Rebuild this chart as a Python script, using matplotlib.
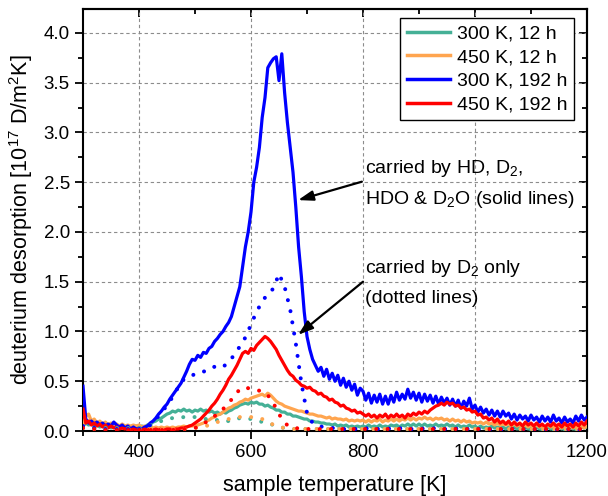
import numpy as np
import matplotlib
matplotlib.use("Agg")
import matplotlib.pyplot as plt
from matplotlib.ticker import MultipleLocator

plt.rcParams['font.family'] = ['Liberation Sans', 'DejaVu Sans']
plt.rcParams['mathtext.fontset'] = 'custom'
plt.rcParams['mathtext.rm'] = 'Liberation Sans'
plt.rcParams['mathtext.it'] = 'Liberation Sans:italic'
plt.rcParams['mathtext.default'] = 'regular'

# temperature grid of the solid curves (5 K step) and dotted curves (10 K step)
T_solid = np.arange(300, 1205, 5)
T_dot = np.arange(300, 1210, 10)

labels = ["300 K, 12 h", "450 K, 12 h", "300 K, 192 h", "450 K, 192 h"]
colors = ["#45b096", "#ffa54f", "#0000ff", "#ff0000"]

teal_solid = [
    0.05, 0.08, 0.06, 0.07, 0.05, 0.06, 0.04, 0.05, 0.04, 0.05,
    0.03, 0.04, 0.03, 0.04, 0.03, 0.04, 0.03, 0.04, 0.03, 0.05,
    0.04, 0.05, 0.04, 0.06, 0.07, 0.09, 0.10, 0.12, 0.13, 0.15,
    0.17, 0.18, 0.20, 0.19, 0.21, 0.20, 0.22, 0.20, 0.21, 0.19,
    0.21, 0.20, 0.22, 0.20, 0.21, 0.19, 0.20, 0.18, 0.19, 0.17,
    0.19, 0.18, 0.20, 0.21, 0.23, 0.24, 0.26, 0.27, 0.28, 0.27,
    0.29, 0.28, 0.29, 0.27, 0.27, 0.25, 0.26, 0.24, 0.23, 0.21,
    0.21, 0.19, 0.19, 0.17, 0.17, 0.15, 0.15, 0.14, 0.13, 0.12,
    0.12, 0.10, 0.10, 0.09, 0.09, 0.08, 0.08, 0.07, 0.07, 0.06,
    0.07, 0.05, 0.06, 0.05, 0.06, 0.04, 0.05, 0.04, 0.05, 0.04,
    0.05, 0.04, 0.06, 0.04, 0.05, 0.04, 0.06, 0.04, 0.05, 0.04,
    0.06, 0.05, 0.06, 0.04, 0.06, 0.05, 0.07, 0.05, 0.07, 0.05,
    0.07, 0.05, 0.07, 0.05, 0.06, 0.05, 0.07, 0.05, 0.06, 0.05,
    0.07, 0.05, 0.06, 0.04, 0.06, 0.04, 0.05, 0.04, 0.06, 0.04,
    0.05, 0.03, 0.05, 0.03, 0.04, 0.03, 0.05, 0.03, 0.04, 0.03,
    0.04, 0.02, 0.04, 0.03, 0.04, 0.02, 0.04, 0.03, 0.04, 0.02,
    0.04, 0.03, 0.04, 0.02, 0.03, 0.02, 0.04, 0.02, 0.03, 0.02,
    0.04, 0.02, 0.03, 0.02, 0.04, 0.02, 0.03, 0.02, 0.04, 0.03,
    0.04]

orange_solid = [
    0.06, 0.15, 0.17, 0.10, 0.12, 0.08, 0.10, 0.07, 0.09, 0.06,
    0.08, 0.06, 0.07, 0.05, 0.07, 0.05, 0.06, 0.05, 0.06, 0.05,
    0.06, 0.04, 0.05, 0.04, 0.05, 0.03, 0.04, 0.03, 0.04, 0.03,
    0.04, 0.03, 0.04, 0.03, 0.04, 0.04, 0.05, 0.04, 0.05, 0.05,
    0.06, 0.06, 0.07, 0.08, 0.10, 0.11, 0.13, 0.14, 0.16, 0.17,
    0.19, 0.21, 0.23, 0.24, 0.26, 0.27, 0.29, 0.30, 0.32, 0.31,
    0.33, 0.34, 0.35, 0.36, 0.37, 0.35, 0.38, 0.36, 0.33, 0.30,
    0.28, 0.27, 0.25, 0.24, 0.23, 0.22, 0.21, 0.20, 0.20, 0.19,
    0.18, 0.17, 0.17, 0.16, 0.15, 0.15, 0.14, 0.13, 0.14, 0.12,
    0.13, 0.12, 0.12, 0.11, 0.12, 0.10, 0.11, 0.10, 0.11, 0.10,
    0.11, 0.09, 0.11, 0.09, 0.11, 0.10, 0.12, 0.09, 0.11, 0.10,
    0.12, 0.10, 0.12, 0.10, 0.12, 0.11, 0.13, 0.11, 0.13, 0.11,
    0.13, 0.12, 0.14, 0.12, 0.13, 0.11, 0.13, 0.12, 0.13, 0.11,
    0.12, 0.10, 0.12, 0.10, 0.11, 0.09, 0.11, 0.09, 0.10, 0.08,
    0.09, 0.08, 0.09, 0.07, 0.09, 0.07, 0.08, 0.06, 0.08, 0.06,
    0.07, 0.06, 0.07, 0.05, 0.07, 0.05, 0.06, 0.05, 0.06, 0.04,
    0.06, 0.04, 0.06, 0.04, 0.05, 0.04, 0.06, 0.04, 0.05, 0.04,
    0.05, 0.03, 0.05, 0.04, 0.05, 0.03, 0.05, 0.04, 0.05, 0.03,
    0.05]

blue_solid = [
    0.45, 0.12, 0.08, 0.10, 0.07, 0.09, 0.06, 0.08, 0.05, 0.07,
    0.05, 0.09, 0.06, 0.04, 0.06, 0.03, 0.05, 0.02, 0.04, 0.02,
    0.03, 0.02, 0.04, 0.05, 0.08, 0.10, 0.13, 0.17, 0.20, 0.24,
    0.27, 0.32, 0.36, 0.40, 0.44, 0.48, 0.54, 0.60, 0.67, 0.72,
    0.71, 0.76, 0.74, 0.79, 0.78, 0.83, 0.85, 0.90, 0.93, 0.97,
    1.00, 1.05, 1.09, 1.15, 1.25, 1.35, 1.45, 1.65, 1.85, 2.00,
    2.20, 2.50, 2.65, 2.85, 3.15, 3.35, 3.65, 3.70, 3.74, 3.76,
    3.52, 3.79, 3.40, 3.10, 2.85, 2.60, 2.25, 1.85, 1.55, 1.20,
    0.95, 0.82, 0.72, 0.66, 0.60, 0.64, 0.55, 0.62, 0.52, 0.58,
    0.50, 0.56, 0.46, 0.53, 0.44, 0.50, 0.41, 0.47, 0.36, 0.43,
    0.40, 0.31, 0.38, 0.28, 0.36, 0.29, 0.37, 0.27, 0.35, 0.27,
    0.36, 0.29, 0.39, 0.31, 0.37, 0.32, 0.42, 0.33, 0.39, 0.31,
    0.38, 0.29, 0.37, 0.30, 0.36, 0.28, 0.35, 0.27, 0.34, 0.28,
    0.33, 0.26, 0.32, 0.25, 0.31, 0.23, 0.30, 0.25, 0.33, 0.22,
    0.26, 0.19, 0.24, 0.18, 0.22, 0.16, 0.21, 0.15, 0.20, 0.14,
    0.20, 0.15, 0.18, 0.12, 0.17, 0.11, 0.16, 0.12, 0.15, 0.10,
    0.16, 0.11, 0.14, 0.09, 0.15, 0.10, 0.14, 0.09, 0.16, 0.10,
    0.13, 0.08, 0.14, 0.09, 0.12, 0.08, 0.15, 0.10, 0.16, 0.11,
    0.14]

red_solid = [
    0.22, 0.08, 0.10, 0.06, 0.08, 0.05, 0.07, 0.04, 0.06, 0.03,
    0.05, 0.03, 0.04, 0.02, 0.03, 0.02, 0.03, 0.01, 0.02, 0.01,
    0.02, 0.01, 0.02, 0.01, 0.02, 0.01, 0.02, 0.01, 0.02, 0.01,
    0.02, 0.02, 0.01, 0.02, 0.02, 0.03, 0.03, 0.04, 0.05, 0.06,
    0.08, 0.10, 0.12, 0.15, 0.18, 0.21, 0.25, 0.28, 0.32, 0.37,
    0.41, 0.46, 0.52, 0.56, 0.61, 0.66, 0.72, 0.78, 0.80, 0.78,
    0.83, 0.81, 0.86, 0.89, 0.92, 0.95, 0.93, 0.90, 0.86, 0.82,
    0.76, 0.71, 0.66, 0.61, 0.57, 0.55, 0.51, 0.49, 0.46, 0.45,
    0.43, 0.44, 0.41, 0.40, 0.37, 0.38, 0.35, 0.34, 0.31, 0.32,
    0.29, 0.28, 0.25, 0.26, 0.23, 0.22, 0.20, 0.21, 0.18, 0.19,
    0.17, 0.15, 0.17, 0.14, 0.16, 0.13, 0.16, 0.14, 0.17, 0.13,
    0.16, 0.14, 0.17, 0.14, 0.16, 0.13, 0.17, 0.15, 0.18, 0.16,
    0.19, 0.17, 0.20, 0.18, 0.21, 0.23, 0.25, 0.26, 0.28, 0.26,
    0.29, 0.27, 0.28, 0.25, 0.26, 0.23, 0.24, 0.21, 0.22, 0.19,
    0.20, 0.16, 0.17, 0.13, 0.14, 0.11, 0.13, 0.09, 0.12, 0.08,
    0.10, 0.07, 0.10, 0.06, 0.09, 0.06, 0.08, 0.05, 0.09, 0.06,
    0.08, 0.05, 0.08, 0.05, 0.07, 0.04, 0.07, 0.05, 0.08, 0.05,
    0.07, 0.04, 0.08, 0.05, 0.07, 0.04, 0.08, 0.05, 0.09, 0.06,
    0.10]

teal_dot = [
    0.03, 0.03, 0.03, 0.03, 0.03, 0.03, 0.03, 0.03, 0.03, 0.03,
    0.03, 0.04, 0.06, 0.08, 0.10, 0.12, 0.13, 0.13, 0.14, 0.14,
    0.14, 0.13, 0.12, 0.11, 0.11, 0.10, 0.10, 0.11, 0.13, 0.13,
    0.12, 0.11, 0.09, 0.08, 0.06, 0.04, 0.03, 0.02, 0.02, 0.02,
    0.02, 0.02, 0.02, 0.02, 0.02, 0.02, 0.02, 0.02, 0.02, 0.02,
    0.02, 0.02, 0.02, 0.02, 0.02, 0.02, 0.02, 0.02, 0.02, 0.02,
    0.02, 0.02, 0.02, 0.02, 0.02, 0.02, 0.02, 0.02, 0.02, 0.02,
    0.02, 0.01, 0.02, 0.01, 0.02, 0.01, 0.02, 0.01, 0.02, 0.01,
    0.01, 0.01, 0.01, 0.01, 0.01, 0.01, 0.01, 0.01, 0.01, 0.01,
    0.01]

orange_dot = [
    0.03, 0.03, 0.02, 0.02, 0.02, 0.02, 0.02, 0.02, 0.02, 0.02,
    0.02, 0.02, 0.02, 0.02, 0.02, 0.02, 0.02, 0.02, 0.02, 0.02,
    0.03, 0.04, 0.05, 0.07, 0.09, 0.10, 0.12, 0.13, 0.14, 0.14,
    0.14, 0.13, 0.12, 0.10, 0.06, 0.04, 0.03, 0.02, 0.02, 0.02,
    0.02, 0.02, 0.02, 0.02, 0.02, 0.02, 0.02, 0.02, 0.02, 0.02,
    0.02, 0.02, 0.02, 0.02, 0.02, 0.02, 0.02, 0.02, 0.02, 0.02,
    0.02, 0.02, 0.02, 0.02, 0.02, 0.02, 0.02, 0.02, 0.02, 0.02,
    0.02, 0.02, 0.02, 0.02, 0.02, 0.02, 0.02, 0.02, 0.02, 0.02,
    0.02, 0.02, 0.02, 0.02, 0.02, 0.02, 0.02, 0.02, 0.02, 0.02,
    0.02]

blue_dot = [
    0.05, 0.04, 0.03, 0.03, 0.02, 0.02, 0.02, 0.02, 0.02, 0.02,
    0.02, 0.03, 0.06, 0.12, 0.18, 0.26, 0.34, 0.44, 0.52, 0.55,
    0.57, 0.58, 0.61, 0.64, 0.65, 0.64, 0.70, 0.76, 0.85, 0.94,
    1.07, 1.20, 1.30, 1.38, 1.43, 1.58, 1.45, 1.22, 0.88, 0.48,
    0.18, 0.08, 0.05, 0.04, 0.03, 0.03, 0.02, 0.02, 0.02, 0.02,
    0.02, 0.03, 0.02, 0.02, 0.03, 0.02, 0.02, 0.03, 0.02, 0.02,
    0.03, 0.02, 0.02, 0.03, 0.02, 0.02, 0.03, 0.02, 0.02, 0.02,
    0.02, 0.02, 0.01, 0.02, 0.02, 0.01, 0.02, 0.02, 0.01, 0.02,
    0.01, 0.02, 0.01, 0.01, 0.02, 0.01, 0.01, 0.02, 0.01, 0.01,
    0.01]

red_dot = [
    0.03, 0.02, 0.02, 0.02, 0.01, 0.01, 0.01, 0.01, 0.01, 0.01,
    0.01, 0.01, 0.01, 0.01, 0.01, 0.01, 0.01, 0.02, 0.02, 0.02,
    0.03, 0.06, 0.09, 0.13, 0.17, 0.22, 0.28, 0.35, 0.42, 0.44,
    0.42, 0.41, 0.40, 0.36, 0.28, 0.17, 0.08, 0.04, 0.03, 0.02,
    0.02, 0.02, 0.02, 0.02, 0.02, 0.02, 0.02, 0.02, 0.02, 0.02,
    0.02, 0.02, 0.02, 0.02, 0.02, 0.02, 0.02, 0.02, 0.02, 0.02,
    0.02, 0.02, 0.02, 0.02, 0.02, 0.02, 0.02, 0.02, 0.02, 0.02,
    0.02, 0.02, 0.02, 0.02, 0.02, 0.02, 0.02, 0.02, 0.02, 0.02,
    0.02, 0.02, 0.02, 0.02, 0.02, 0.02, 0.02, 0.02, 0.02, 0.02,
    0.02]

solid_series = [teal_solid, orange_solid, blue_solid, red_solid]
dot_series = [teal_dot, orange_dot, blue_dot, red_dot]

fig = plt.figure(figsize=(6.08, 4.96), dpi=100)
ax = fig.add_axes([83/608, 65/496, 504/608, 422/496])

for ys, c, lab in zip(solid_series, colors, labels):
    ax.plot(T_solid, ys, color=c, lw=2.3, label=lab, solid_joinstyle='round', zorder=3)
for ys, c in zip(dot_series, colors):
    ax.plot(T_dot, ys, color=c, lw=2.9, linestyle=(0, (0.01, 2.8)),
            dash_capstyle='round', zorder=4)

ax.set_xlim(300, 1200)
ax.set_ylim(0, 4.24)
ax.xaxis.set_major_locator(MultipleLocator(200))
ax.xaxis.set_minor_locator(MultipleLocator(100))
ax.yaxis.set_major_locator(MultipleLocator(0.5))
ax.yaxis.set_minor_locator(MultipleLocator(0.25))
ax.yaxis.set_major_formatter(matplotlib.ticker.FormatStrFormatter('%.1f'))

ax.grid(True, which='major', color='#8c8c8c', linestyle=(0, (3, 2.5)), lw=0.8, zorder=0)
ax.set_axisbelow(True)

for s in ax.spines.values():
    s.set_linewidth(1.5)

ax.tick_params(which='both', direction='out', top=False, right=False, labelsize=13.5, width=1.3)
ax.tick_params(which='major', length=6)
ax.tick_params(which='minor', length=3.5)
# inward ticks on top and right
axt = ax.secondary_xaxis('top')
axt.xaxis.set_major_locator(MultipleLocator(200))
axt.xaxis.set_minor_locator(MultipleLocator(100))
axt.tick_params(which='both', direction='in', labeltop=False, width=1.3)
axt.tick_params(which='major', length=6)
axt.tick_params(which='minor', length=3.5)
axr = ax.secondary_yaxis('right')
axr.yaxis.set_major_locator(MultipleLocator(0.5))
axr.yaxis.set_minor_locator(MultipleLocator(0.25))
axr.tick_params(which='both', direction='in', labelright=False, width=1.3)
axr.tick_params(which='major', length=6)
axr.tick_params(which='minor', length=3.5)
for a in (axt, axr):
    for s in a.spines.values():
        s.set_linewidth(1.5)

ax.set_xlabel('sample temperature [K]', fontsize=15.5, labelpad=10)
ax.set_ylabel('deuterium desorption [10$^{17}$ D/m$^2$K]', fontsize=15.5, labelpad=6)

leg = ax.legend(loc='upper right', bbox_to_anchor=(574/608, 1 - 18/496),
                bbox_transform=fig.transFigure, borderaxespad=0, fontsize=14,
                frameon=True, fancybox=False, edgecolor='black', framealpha=1,
                handlelength=2.2, handletextpad=0.35, labelspacing=0.31,
                borderpad=0.35)
leg.get_frame().set_linewidth(1.0)
for h in leg.get_lines():
    h.set_linewidth(2.5)

txt_kw = dict(fontsize=14, ha='left', va='baseline', zorder=6)
ax.text(804, 2.59, 'carried by HD, D$_2$,', **txt_kw)
ax.text(804, 2.28, 'HDO & D$_2$O (solid lines)', **txt_kw)
ax.text(804, 1.59, 'carried by D$_2$ only', **txt_kw)
ax.text(804, 1.29, '(dotted lines)', **txt_kw)

arrow_kw = dict(arrowstyle='-|>,head_length=0.9,head_width=0.3', color='black', lw=1.6,
                shrinkA=0, shrinkB=0)
ax.annotate('', xy=(684, 2.32), xytext=(798, 2.505), arrowprops=arrow_kw, zorder=6)
ax.annotate('', xy=(684, 0.966), xytext=(800, 1.50), arrowprops=arrow_kw, zorder=6)

fig.savefig('out.png', dpi=100)
